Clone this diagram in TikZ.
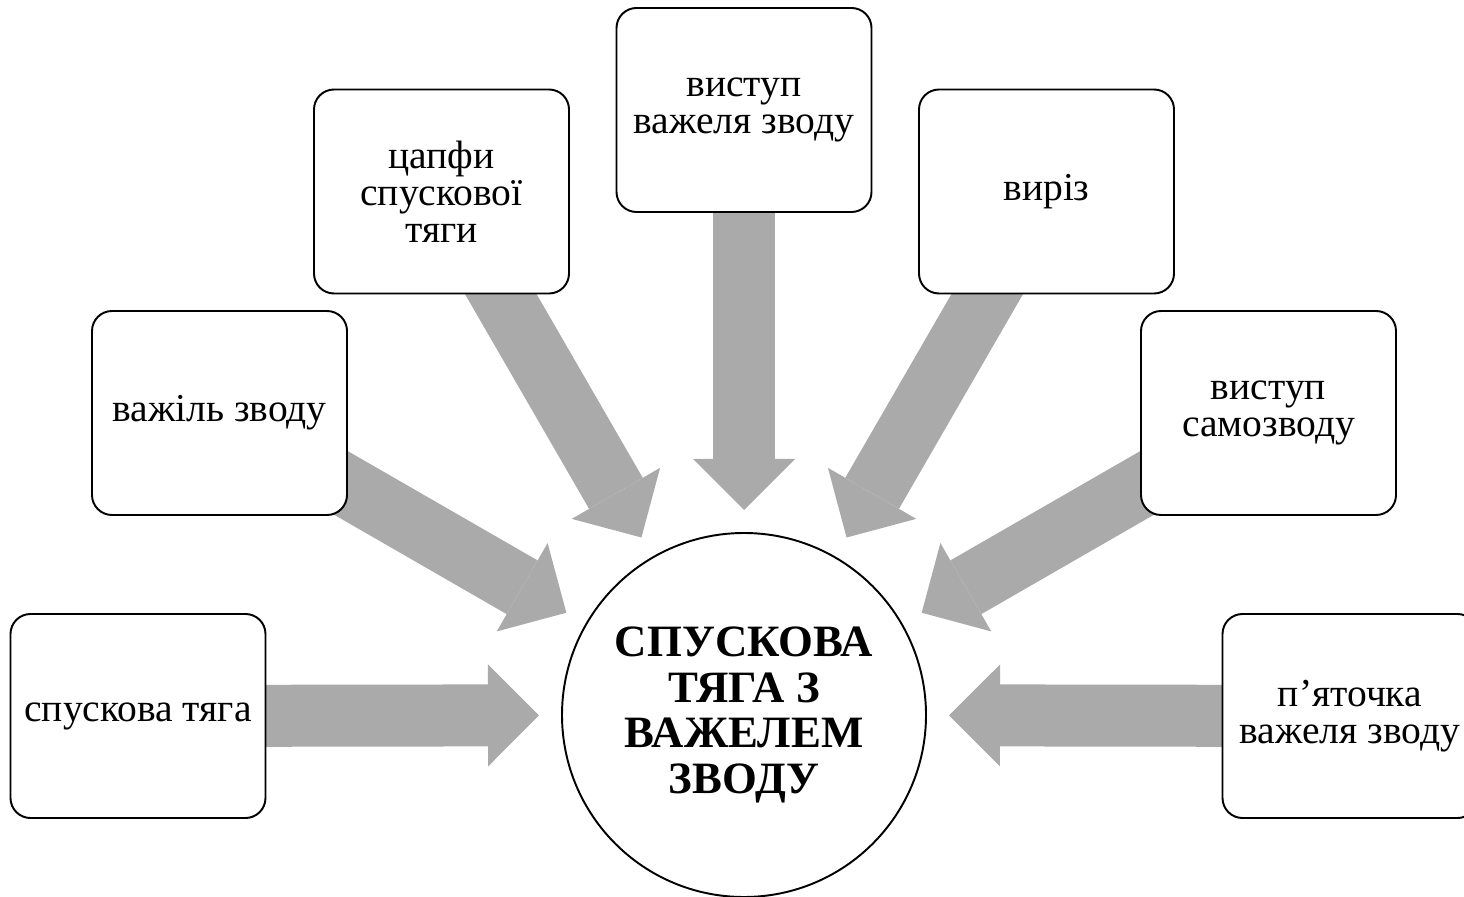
\documentclass[tikz,border=0pt]{standalone}
\usepackage{fontspec}
\setmainfont{Liberation Serif}
\usetikzlibrary{arrows.meta,calc,backgrounds}
\definecolor{arrowgray}{RGB}{170,170,170}
\begin{document}
\begin{tikzpicture}
      \tikzset{part/.style={draw, rounded corners=.4cm, line width=1.1pt, fill=white, minimum width=5.1cm, minimum height=4.08cm, align=center, font=\fontsize{22.5}{21}\selectfont}}
      \tikzset{hubnode/.style={draw, circle, line width=1.1pt, fill=white, minimum size=7.28cm, inner sep=0pt, align=center, font=\bfseries\fontsize{25.5}{26}\selectfont}}
      \tikzset{feed/.style={draw=arrowgray, line width=1.24cm, -{Triangle[width=2.04cm, length=1.02cm, line width=0pt]}}}
      \useasboundingbox (0,0) rectangle (29.28,17.92);
%% Centre
      \node[hubnode] (hub) at (14.88,3.62) {СПУСКОВА\\ТЯГА З\\ВАЖЕЛЕМ\\ЗВОДУ};
%% Parts
      \node[part] (p1) at (2.76,3.6) {спускова тяга};
      \node[part] (p2) at (4.39,9.66) {важіль зводу};
      \node[part] (p3) at (8.83,14.09) {цапфи\\спускової\\тяги};
      \node[part] (p4) at (14.88,15.72) {виступ\\важеля зводу};
      \node[part] (p5) at (20.93,14.09) {виріз};
      \node[part] (p6) at (25.37,9.66) {виступ\\самозводу};
      \node[part] (p7) at (27.0,3.6) {п’яточка\\важеля зводу};
%Arrows
      \begin{scope}[on background layer]
      \foreach \p in {p1,p2,p3,p4,p5,p6,p7}
            \draw[feed] (\p.center) -- ($(hub)!4.1cm!(\p)$);
      \end{scope}
\end{tikzpicture}
\end{document}
